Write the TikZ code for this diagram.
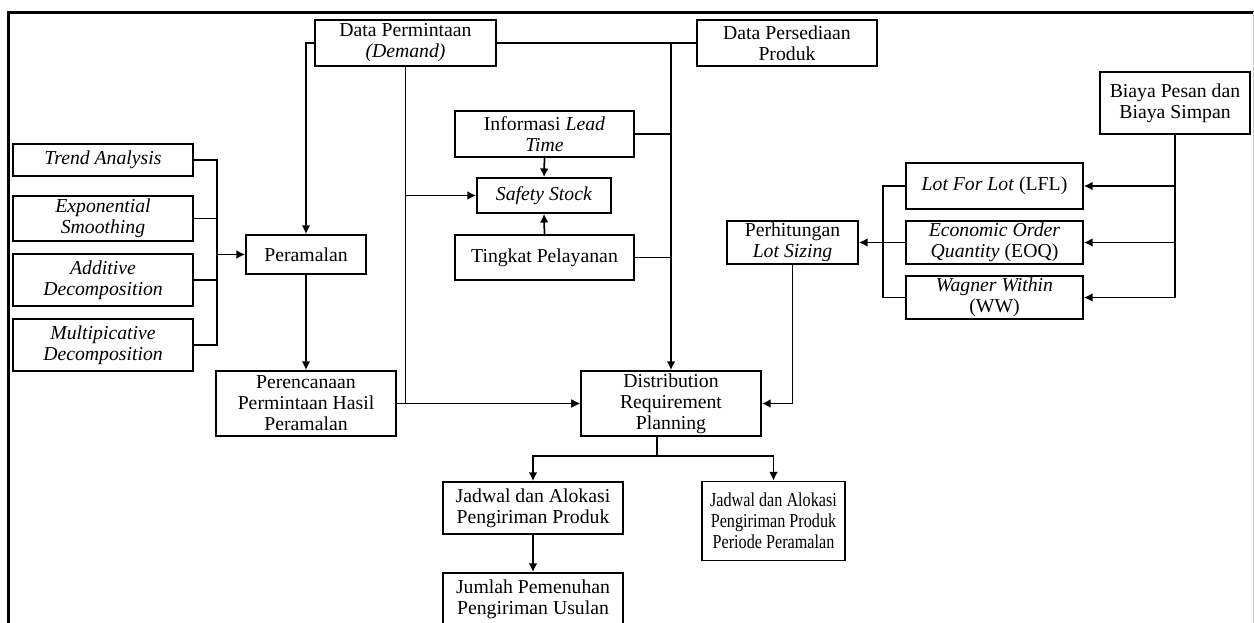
\documentclass[tikz,border=0pt]{standalone}
\usepackage{fontspec}
\setmainfont{Liberation Serif}
\usetikzlibrary{arrows.meta}
\tikzset{
    proc/.style={rectangle, draw=black, line width=1.3pt, align=center, inner sep=0.5pt, minimum width=135pt, minimum height=34.5pt},
    metode/.style={proc, minimum height=39pt},
    lot/.style={proc, minimum width=132.75pt, minimum height=32.25pt},
}
\begin{document}
\begin{tikzpicture}[x=0.75pt, y=-0.75pt, font=\fontsize{14.8}{15.75}\selectfont, >={Latex[length=6.5pt,width=6.5pt]}, line width=1.3pt]
                        \useasboundingbox (0,0) rectangle (1254,623);
                        \draw[line width=2.2pt] (8.5,623) -- (8.5,12.5) -- (1254,12.5);
                        \draw[gray!40, line width=0.5pt] (1253,12.5) -- (1253,623);
                        \node [proc, minimum width=135.75pt] (dp) at (405.5,43) {Data Permintaan\\\textit{(Demand)}};
                        \node [proc] (dps) at (787,43) {Data Persediaan\\Produk};
                        \node [proc, minimum width=112.5pt, minimum height=46.5pt] (biaya) at (1175,103) {Biaya Pesan dan\\Biaya Simpan};
                        \node [metode, minimum height=24pt] (trend) at (103,160) {\textit{Trend Analysis}};
                        \node [metode, minimum height=33.75pt] (exps) at (103,218.5) {\textit{Exponential}\\\textit{Smoothing}};
                        \node [metode] (add) at (103,280) {\textit{Additive}\\\textit{Decomposition}};
                        \node [metode] (mult) at (103,345) {\textit{Multipicative}\\\textit{Decomposition}};
                        \node [proc, minimum width=90pt, minimum height=29.25pt] (per) at (306,254.5) {Peramalan};
                        \node [proc, minimum height=48.75pt] (renc) at (306,403.5) {Perencanaan\\Permintaan Hasil\\Peramalan};
                        \node [proc, minimum width=134.25pt] (info) at (544.5,134) {Informasi \textit{Lead}\\\textit{Time}};
                        \node [proc, minimum width=100.5pt, minimum height=26.25pt] (ss) at (544,195.5) {\textit{Safety Stock}};
                        \node [proc, minimum width=134.25pt, minimum height=33.75pt] (tingkat) at (544.5,257.5) {Tingkat Pelayanan};
                        \node [proc, minimum height=48.75pt] (drp) at (671,403.5) {Distribution\\Requirement\\Planning};
                        \node [proc, minimum width=98.25pt, minimum height=32.25pt] (lotsz) at (792.5,242.5) {Perhitungan\\\textit{Lot Sizing}};
                        \node [lot, minimum height=34.5pt] (lfl) at (994.5,186) {\textit{Lot For Lot} (LFL)};
                        \node [lot] (eoq) at (994.5,242.5) {\textit{Economic Order}\\\textit{Quantity} (EOQ)};
                        \node [lot] (ww) at (994.5,297.5) {\textit{Wagner Within}\\(WW)};
                        \node [proc, minimum height=39pt] (jad) at (533,508) {Jadwal dan Alokasi\\Pengiriman Produk};
                        \node [proc, minimum width=107.25pt, minimum height=59.25pt, font=\fontsize{14.8}{15.75}\selectfont\addfontfeature{FakeStretch=0.82}] (jadp) at (773.5,521) {Jadwal dan Alokasi\\Pengiriman Produk\\Periode Peramalan};
                        \node [proc, minimum height=39pt] (jml) at (533,599) {Jumlah Pemenuhan\\Pengiriman Usulan};
                        \coordinate (lb) at (217,254.5);
                        \coordinate (rb) at (883,242.5);
                        \coordinate (split) at (657,456);
                        \draw (trend.east) -| (lb);
                        \draw (mult.east) -| (lb);
                        \draw (exps.east) -- (exps.east -| lb);
                        \draw (add.east) -- (add.east -| lb);
                        \draw[->] (lb) -- (per.west);
                        \draw[->] (dp.west) -| (per.north);
                        \draw[->] (per.south) -- (renc.north);
                        \draw[->] (dp.south) |- (drp.west);
                        \draw[->] (renc.east) -- (drp.west);
                        \draw[->] (dp.south |- ss.west) -- (ss.west);
                        \draw (dp.east) -- (dps.west);
                        \draw[->] (dp.east -| drp.north) -- (drp.north);
                        \draw (info.east) -- (info.east -| drp.north);
                        \draw (tingkat.east) -- (tingkat.east -| drp.north);
                        \draw[->] (info.south) -- (ss.north);
                        \draw[->] (tingkat.north) -- (ss.south);
                        \draw[->] (biaya.south) |- (ww.east);
                        \draw[->] (biaya.south |- lfl.east) -- (lfl.east);
                        \draw[->] (biaya.south |- eoq.east) -- (eoq.east);
                        \draw (lfl.west) -| (rb);
                        \draw (ww.west) -| (rb);
                        \draw[->] (eoq.west) -- (lotsz.east);
                        \draw[->] (lotsz.south) |- (drp.east);
                        \draw (drp.south -| split) -- (split);
                        \draw[->] (split) -| (jad.north);
                        \draw[->] (split) -| (jadp.north);
                        \draw[->] (jad.south) -- (jml.north);
                    \end{tikzpicture}
\end{document}
